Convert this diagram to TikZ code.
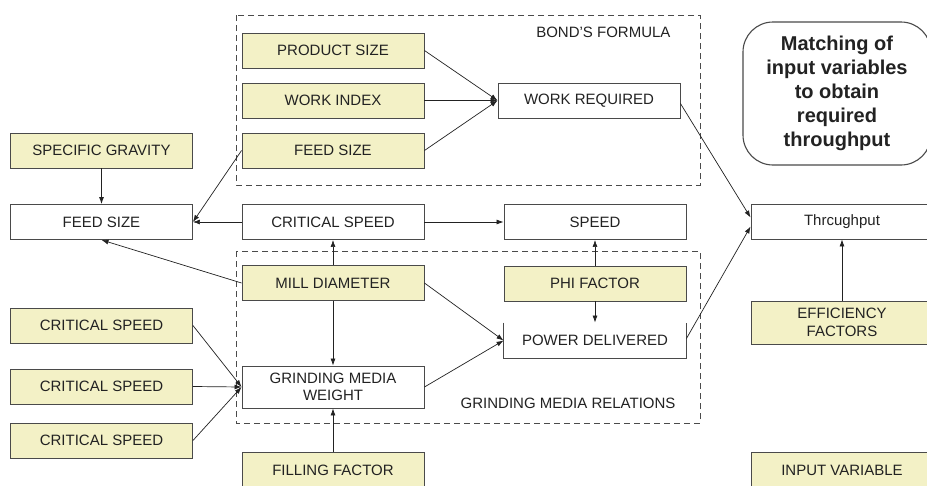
\documentclass[tikz,border=0pt]{standalone}
\usepackage{fontspec}
\setmainfont{Liberation Sans}
\usetikzlibrary{arrows.meta}
\definecolor{yfill}{HTML}{F3F1C6}
\definecolor{bline}{HTML}{4A4A4A}
\definecolor{txt}{HTML}{222222}
\begin{document}
\begin{tikzpicture}[x=1pt,y=-1pt,
  base/.style={rectangle,draw=bline,line width=0.9pt,minimum width=182pt,minimum height=35pt,inner sep=0pt,
    text=txt,font=\fontsize{15}{17.5}\selectfont,align=center},
  ybox/.style={base,fill=yfill},
  wbox/.style={base,fill=white},
  arr/.style={-{Latex[length=7pt,width=5pt]},draw=txt,line width=0.7pt},
  grp/.style={draw=bline,dashed,dash pattern=on 6pt off 4pt,line width=0.9pt}]
\useasboundingbox (0,0) rectangle (927,485);
\fill[white] (0,0) rectangle (927,485);
% groups
\draw[grp] (236,15) rectangle (700,185);
\draw[grp] (236,251) rectangle (700,423);
\node[anchor=east,text=txt,font=\fontsize{15}{17.5}\selectfont] (bond) at (674,32) {BOND’S FORMULA};
\node[anchor=east,text=txt,font=\fontsize{15}{17.5}\selectfont] (gmr) at (679,403) {GRINDING MEDIA RELATIONS};
% nodes
\node[ybox] (prod) at (333,50.5) {PRODUCT SIZE};
\node[ybox] (wi) at (333,100.5) {WORK INDEX};
\node[ybox] (fs1) at (333,150.5) {FEED SIZE};
\node[ybox] (sg) at (101.5,150.5) {SPECIFIC GRAVITY};
\node[wbox] (fs0) at (101.5,222) {FEED SIZE};
\node[wbox] (cs) at (333,222) {CRITICAL SPEED};
\node[wbox] (wr) at (589,100.5) {WORK REQUIRED};
\node[wbox] (speed) at (595,222) {SPEED};
\node[wbox] (thr) at (842,221.5) {Thrcughput};
\node[ybox] (mill) at (333,283) {MILL DIAMETER};
\node[ybox] (phi) at (595,283.5) {PHI FACTOR};
\node[base,draw=none] (pd) at (595,340.5) {POWER DELIVERED};
\draw[bline,line width=0.9pt] (pd.north west) |- (pd.south east) -- (pd.north east);
\node[ybox] (cs1) at (101.5,325.5) {CRITICAL SPEED};
\node[ybox] (cs2) at (101.5,386.5) {CRITICAL SPEED};
\node[ybox] (cs3) at (101.5,440.5) {CRITICAL SPEED};
\node[wbox,minimum height=42pt] (gmw) at (333,387) {GRINDING MEDIA\\WEIGHT};
\node[ybox,minimum height=36pt] (fill) at (333,470) {FILLING FACTOR};
\node[ybox,minimum height=43pt] (eff) at (842,322.5) {EFFICIENCY\\FACTORS};
\node[ybox,minimum height=36pt] (inp) at (842,470) {INPUT VARIABLE};
\node[draw=bline,line width=1.1pt,rounded corners=30pt,minimum width=188pt,minimum height=143pt,
  align=center,text=txt,font=\fontsize{20}{24}\selectfont\bfseries] (title) at (837,93.5)
  {Matching of\\input variables\\to obtain\\required\\throughput};
% connectors
\draw[arr] (prod.east) -- (wr.west);
\draw[arr] (wi.east) -- (wr.west);
\draw[arr] (fs1.east) -- (wr.west);
\draw[arr] ([yshift=-3pt]wr.east) -- ([yshift=4pt]thr.west);
\draw[arr] ([yshift=2pt]pd.east) -- ([yshift=-5pt]thr.west);
\draw[arr] (sg.south) -- (fs0.north);
\draw[arr] (fs1.west) -- (fs0.east);
\draw[arr] (cs.west) -- (fs0.east);
\draw[arr] (cs.east) -- (speed.west);
\draw[arr] (mill.north) -- (cs.south);
\draw[arr] (mill.west) -- (fs0.south);
\draw[arr] (mill.south) -- (gmw.north);
\draw[arr] (mill.east) -- (pd.west);
\draw[arr] (gmw.east) -- (pd.west);
\draw[arr] (phi.north) -- (speed.south);
\draw[arr] (phi.south) -- (pd.north);
\draw[arr] (cs1.east) -- (gmw.west);
\draw[arr] (cs2.east) -- (gmw.west);
\draw[arr] (cs3.east) -- (gmw.west);
\draw[arr] (fill.north) -- (gmw.south);
\draw[arr] (eff.north) -- (thr.south);
\end{tikzpicture}
\end{document}
